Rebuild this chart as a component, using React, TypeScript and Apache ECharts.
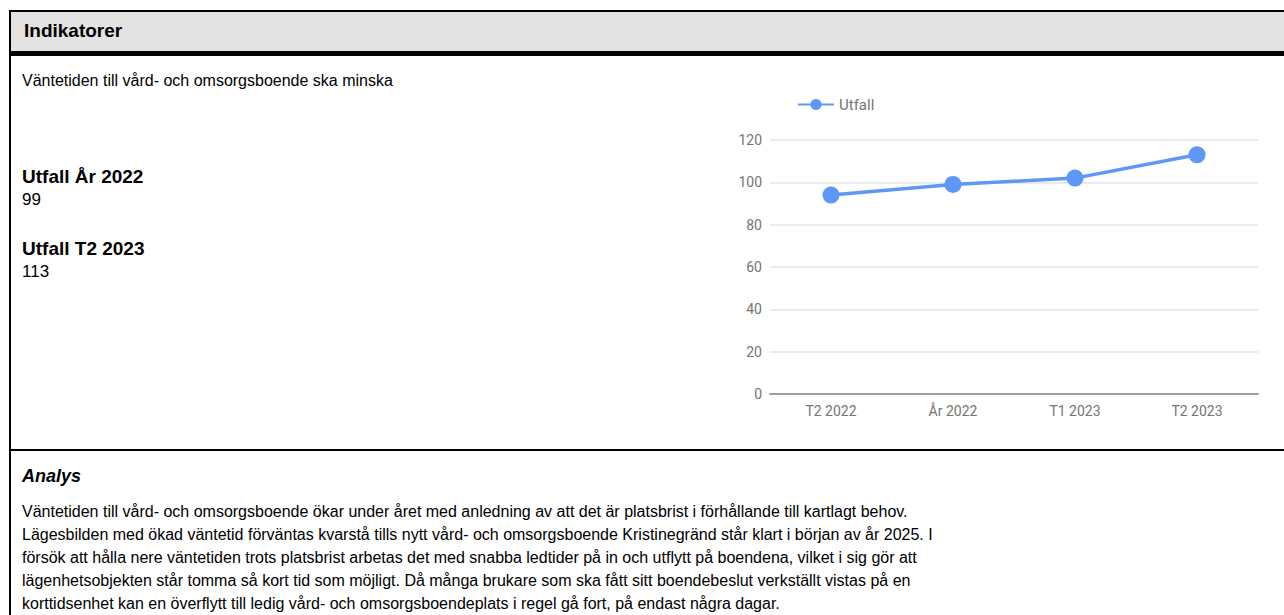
import React, { useEffect, useRef } from "react";
import * as echarts from "echarts";

const categories = ["T2 2022", "År 2022", "T1 2023", "T2 2023"];
const utfall = [94, 99, 102, 113];
const yTicks = { min: 0, max: 120, interval: 20 };
const seriesName = "Utfall";

const headerTitle = "Indikatorer";
const goalText = "Väntetiden till vård- och omsorgsboende ska minska";
const kpiLabels = ["Utfall År 2022", "Utfall T2 2023"];
const kpiValues = ["99", "113"];
const analysisTitle = "Analys";
const analysisLines = [
  "Väntetiden till vård- och omsorgsboende ökar under året med anledning av att det är platsbrist i förhållande till kartlagt behov.",
  "Lägesbilden med ökad väntetid förväntas kvarstå tills nytt vård- och omsorgsboende Kristinegränd står klart i början av år 2025. I",
  "försök att hålla nere väntetiden trots platsbrist arbetas det med snabba ledtider på in och utflytt på boendena, vilket i sig gör att",
  "lägenhetsobjekten står tomma så kort tid som möjligt. Då många brukare som ska fått sitt boendebeslut verkställt vistas på en",
  "korttidsenhet kan en överflytt till ledig vård- och omsorgsboendeplats i regel gå fort, på endast några dagar.",
];

const FONT = '"Liberation Sans", Arial, sans-serif';
const BLUE = "#5e97f6";

function Chart() {
  const ref = useRef<HTMLDivElement>(null);
  useEffect(() => {
    if (!ref.current) return;
    const chart = echarts.init(ref.current, undefined, { renderer: "svg" });
    chart.setOption({
      animation: false,
      textStyle: { fontFamily: "Roboto" },
      legend: {
        data: [seriesName],
        left: 92,
        top: 12,
        itemWidth: 36,
        itemHeight: 14,
        itemGap: 6,
        textStyle: { color: "#757575", fontSize: 15, fontFamily: "Roboto" },
      },
      grid: { left: 70, right: 26, top: 60, bottom: 56 },
      xAxis: {
        type: "category",
        data: categories,
        boundaryGap: true,
        axisLine: { lineStyle: { color: "#9e9e9e", width: 2 } },
        axisTick: { show: false },
        axisLabel: { color: "#757575", fontSize: 14, fontFamily: "Roboto", margin: 10 },
      },
      yAxis: {
        type: "value",
        min: yTicks.min,
        max: yTicks.max,
        interval: yTicks.interval,
        axisLine: { show: false },
        axisTick: { show: false },
        splitLine: { lineStyle: { color: "#ebebeb", width: 2 } },
        axisLabel: { color: "#757575", fontSize: 14, fontFamily: "Roboto", margin: 8 },
      },
      series: [
        {
          name: seriesName,
          type: "line",
          data: utfall,
          symbol: "circle",
          symbolSize: 17,
          lineStyle: { color: BLUE, width: 3.5 },
          itemStyle: { color: BLUE },
        },
      ],
    });
    return () => chart.dispose();
  }, []);
  return (
    <div
      ref={ref}
      style={{ position: "absolute", left: 700, top: 80, width: 584, height: 370 }}
    />
  );
}

export default function App() {
  const txt: React.CSSProperties = {
    position: "absolute",
    fontFamily: FONT,
    fontSize: 16,
    color: "#000",
    whiteSpace: "nowrap",
    lineHeight: "20px",
  };
  return (
    <div
      style={{
        position: "fixed",
        left: 0,
        top: 0,
        width: 1284,
        height: 615,
        background: "#fff",
        overflow: "hidden",
      }}
    >
      <div style={{ position: "absolute", left: 9, top: 10, width: 1300, height: 41, background: "#e3e3e3" }} />
      <div style={{ position: "absolute", left: 9, top: 10, width: 1300, height: 2, background: "#000" }} />
      <div style={{ position: "absolute", left: 9, top: 51, width: 1300, height: 5, background: "#000" }} />
      <div style={{ position: "absolute", left: 9, top: 10, width: 2, height: 620, background: "#000" }} />
      <div style={{ position: "absolute", left: 9, top: 449, width: 1300, height: 2, background: "#000" }} />

      <div style={{ ...txt, left: 24, top: 21, fontSize: 19, fontWeight: "bold" }}>{headerTitle}</div>
      <div style={{ ...txt, left: 22, top: 71 }}>{goalText}</div>

      {kpiLabels.map((k, i) => (
        <React.Fragment key={k}>
          <div style={{ ...txt, left: 22, top: 167 + i * 72, fontSize: 19, fontWeight: "bold" }}>{k}</div>
          <div style={{ ...txt, left: 22, top: 190 + i * 72, fontSize: 17 }}>{kpiValues[i]}</div>
        </React.Fragment>
      ))}

      <div style={{ ...txt, left: 22, top: 466, fontSize: 18, fontWeight: "bold", fontStyle: "italic" }}>{analysisTitle}</div>
      {analysisLines.map((l, i) => (
        <div key={i} style={{ ...txt, left: 22, top: 502 + i * 23 }}>{l}</div>
      ))}

      <Chart />
    </div>
  );
}
